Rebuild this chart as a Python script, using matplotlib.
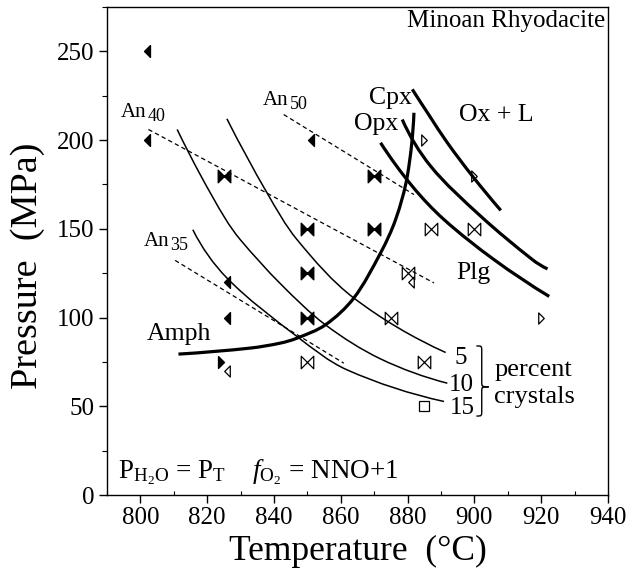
import math
import matplotlib
matplotlib.use("Agg")
import matplotlib.pyplot as plt
from matplotlib.path import Path
from matplotlib.patches import PathPatch

plt.rcParams['font.family'] = ['Liberation Serif', 'DejaVu Serif']
plt.rcParams['mathtext.fontset'] = 'custom'
plt.rcParams['mathtext.rm'] = 'Liberation Serif'
plt.rcParams['mathtext.it'] = 'Liberation Serif:italic'

# experimental run conditions (T in C, P in MPa), grouped by symbol
filled_left_T = [802, 802, 851, 826, 826]
filled_left_P = [250, 200, 200, 120, 100]
filled_bow_T = [825, 870, 850, 870, 850, 850]
filled_bow_P = [180, 180, 150, 150, 125, 100]
open_bow_T = [887, 900, 880, 875, 850, 885]
open_bow_P = [150, 150, 125, 100, 75, 75]
open_right_T = [885, 900, 920]
open_right_P = [200, 180, 100]
filled_right_T = [824]
filled_right_P = [75]
open_left_T = [826, 881]
open_left_P = [70, 120]
square_T = [885]
square_P = [50]

# percent-crystal isopleths
iso5_T = [825.9, 837.9, 846.9, 863.9, 891.4]
iso5_P = [212.0, 170.3, 143.9, 111.0, 80.3]
iso10_T = [811.0, 817.9, 825.4, 829.9, 841.9, 855.4, 871.9, 891.9]
iso10_P = [206.0, 180.6, 155.8, 143.9, 119.1, 95.9, 76.7, 63.0]
iso15_T = [815.7, 825.9, 846.9, 861.9, 890.9]
iso15_P = [149.5, 122.3, 89.3, 70.5, 52.7]

# mineral-in curves
amph_T = [811.4, 832.9, 841.9, 846.9, 855.4, 863.9, 871.9, 876.4, 879.9, 881.9]
amph_P = [79.4, 82.8, 85.6, 88.4, 95.9, 111.0, 136.4, 155.2, 179.6, 215.4]
cpx_T = [881.4, 886.3, 891.9, 899.5, 907.9]
cpx_P = [228.6, 214.4, 198.5, 179.5, 160.4]
opx_T = [878.4, 886.9, 901.9, 917.4, 921.9]
opx_P = [211.6, 185.3, 157.1, 132.6, 127.4]
plg_T = [871.9, 881.4, 890.9, 905.9, 922.4]
plg_P = [198.5, 174.0, 155.2, 132.6, 111.9]

# plagioclase composition lines
an40_T = [802.4, 887.9]
an40_P = [206.0, 119.5]
an50_T = [842.9, 881.9]
an50_P = [214.4, 169.3]
an35_T = [810.4, 860.9]
an35_P = [132.2, 74.3]

fig = plt.figure(figsize=(6.41, 5.79), dpi=100)
ax = fig.add_axes([107 / 641, 84 / 579, 501 / 641, 488 / 579])
ax.set_xlim(790, 940)
ax.set_ylim(0, 275)


def smooth_path(xs, ys):
    """Chord-length cubic spline through the points (Bezier segments)"""
    disp = ax.transData.transform(list(zip(xs, ys)))
    n = len(disp)
    seg = [math.hypot(*(disp[i + 1] - disp[i])) for i in range(n - 1)]
    tang = []
    for i in range(n):
        if 0 < i < n - 1:
            tang.append((disp[i + 1] - disp[i - 1]) / (seg[i - 1] + seg[i]))
        else:
            tang.append(None)
    if n > 2:
        tang[0] = 2 * (disp[1] - disp[0]) / seg[0] - tang[1]
        tang[-1] = 2 * (disp[-1] - disp[-2]) / seg[-1] - tang[-2]
    else:
        tang[0] = tang[-1] = (disp[1] - disp[0]) / seg[0]
    verts = [disp[0]]
    codes = [Path.MOVETO]
    for i in range(n - 1):
        verts += [disp[i] + tang[i] * seg[i] / 3,
                  disp[i + 1] - tang[i + 1] * seg[i] / 3,
                  disp[i + 1]]
        codes += [Path.CURVE4] * 3
    data = ax.transData.inverted().transform(verts)
    return Path(data, codes)


# marker shapes
tri_left = Path([(-0.5, 0), (0.5, 1), (0.5, -1), (-0.5, 0)],
                [Path.MOVETO, Path.LINETO, Path.LINETO, Path.CLOSEPOLY])
tri_right = Path([(0.5, 0), (-0.5, 1), (-0.5, -1), (0.5, 0)],
                 [Path.MOVETO, Path.LINETO, Path.LINETO, Path.CLOSEPOLY])
bowtie = Path([(-1, 1), (0, 0), (-1, -1), (-1, 1), (1, 1), (0, 0), (1, -1), (1, 1)],
              [Path.MOVETO, Path.LINETO, Path.LINETO, Path.CLOSEPOLY] * 2)

for t, p in [(iso5_T, iso5_P), (iso10_T, iso10_P), (iso15_T, iso15_P)]:
    ax.add_patch(PathPatch(smooth_path(t, p), fill=False, lw=1.1, color='black'))
for t, p in [(amph_T, amph_P), (cpx_T, cpx_P), (opx_T, opx_P), (plg_T, plg_P)]:
    ax.add_patch(PathPatch(smooth_path(t, p), fill=False, lw=2.3, color='black',
                           capstyle='butt'))
for t, p in [(an40_T, an40_P), (an50_T, an50_P), (an35_T, an35_P)]:
    ax.plot(t, p, color='black', lw=0.9, linestyle=(0, (3.5, 2.5)))

ax.plot(filled_left_T, filled_left_P, ls='none', marker=tri_left, ms=8.5, color='black')
ax.plot(filled_right_T, filled_right_P, ls='none', marker=tri_right, ms=8.5, color='black')
ax.plot(open_left_T, open_left_P, ls='none', marker=tri_left, ms=8,
        mfc='white', mec='black', mew=0.9)
ax.plot(open_right_T, open_right_P, ls='none', marker=tri_right, ms=8,
        mfc='none', mec='black', mew=0.9)
ax.plot(filled_bow_T, filled_bow_P, ls='none', marker=bowtie, ms=9, color='black')
ax.plot(open_bow_T, open_bow_P, ls='none', marker=bowtie, ms=9,
        mfc='none', mec='black', mew=0.9)
ax.plot(square_T, square_P, ls='none', marker='s', ms=7.5,
        mfc='none', mec='black', mew=0.9)

# anorthite labels with lowered subscripts
for t, p, sub in [(794, 213, '40'), (836.7, 219.7, '50'), (800.9, 140.2, '35')]:
    ax.text(t, p, 'An', fontsize=15, ha='left', va='baseline')
    ax.annotate(sub, (t, p), xytext=(19.5, -3), textcoords='offset points',
                fontsize=13, ha='left', va='baseline')

ax.text(868.4, 220.6, 'Cpx', fontsize=18.5, va='baseline')
ax.text(864.1, 205.5, 'Opx', fontsize=18.5, va='baseline')
ax.text(895.4, 210.8, 'Ox + L', fontsize=18.5, va='baseline')
ax.text(894.6, 122, 'Plg', fontsize=18.5, va='baseline')
ax.text(801.9, 87.1, 'Amph', fontsize=18.5, va='baseline')
ax.text(893.9, 73.9, '5', fontsize=18, va='baseline')
ax.text(892.4, 58.7, '10', fontsize=18, va='baseline')
ax.text(892.7, 45.5, '15', fontsize=18, va='baseline')
ax.text(905.9, 67.2, 'percent', fontsize=19, va='baseline')
ax.text(905.9, 52.1, 'crystals', fontsize=19, va='baseline')
ax.text(939.3, 263.5, 'Minoan Rhyodacite', fontsize=18, ha='right', va='baseline')
ax.text(793.4, 9.4,
        r'P$_{\mathrm{H_2O}}$ = P$_{\mathrm{T}}$    $f$$_{\mathrm{O_2}}$ = NNO+1',
        fontsize=19.5, ha='left', va='baseline')

# curly brace grouping the isopleth labels
x0, x1, x2 = 900.6, 902.2, 904.3
yt, ym, yb = 84, 61, 44.5
brace = Path([(x0, yt), (x1, yt), (x1, yt), (x1, yt - 3),
              (x1, ym + 3),
              (x1, ym), (x1, ym), (x2, ym),
              (x1, ym), (x1, ym), (x1, ym - 3),
              (x1, yb + 3),
              (x1, yb), (x1, yb), (x0, yb)],
             [Path.MOVETO, Path.CURVE4, Path.CURVE4, Path.CURVE4,
              Path.LINETO,
              Path.CURVE4, Path.CURVE4, Path.CURVE4,
              Path.CURVE4, Path.CURVE4, Path.CURVE4,
              Path.LINETO,
              Path.CURVE4, Path.CURVE4, Path.CURVE4])
ax.add_patch(PathPatch(brace, fill=False, lw=1.0, color='black'))

ax.set_xticks(range(800, 941, 20))
ax.set_yticks(range(0, 251, 50))
ax.set_xticks(range(790, 941, 10), minor=True)
ax.set_yticks(range(25, 276, 50), minor=True)
ax.tick_params(which='major', direction='out', length=6, width=1, labelsize=18, pad=3)
ax.tick_params(which='minor', direction='out', length=3.5, width=0.8)
ax.tick_params(axis='x', which='minor', direction='in', length=3)
for s in ax.spines.values():
    s.set_linewidth(1.0)

ax.set_xlabel('Temperature  (°C)', fontsize=25.5, labelpad=4)
ax.set_ylabel('Pressure  (MPa)', fontsize=27.5)
ax.yaxis.set_label_coords(-0.124, 0.47)

fig.savefig('out.png', dpi=100)
